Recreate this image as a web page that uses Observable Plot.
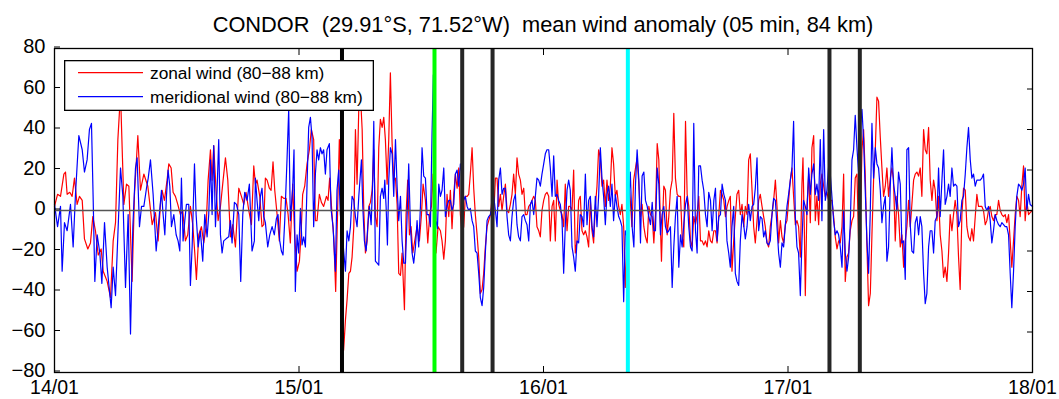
<!DOCTYPE html>
<html>
<head>
<meta charset="utf-8">
<script src="https://cdn.jsdelivr.net/npm/d3@7"></script>
<script src="https://cdn.jsdelivr.net/npm/@observablehq/plot@0.6"></script>
<style>
  html, body { margin: 0; padding: 0; background: #fff; }
  #wrap { position: relative; width: 1059px; height: 399px; font-family: "Liberation Sans", Arial, Helvetica, sans-serif; }
  #title { position: absolute; left: 0; width: 1086px; top: 14px; text-align: center; font-size: 21.8px; line-height: 22px; white-space: pre; color: #000; }
  #legend { position: absolute; left: 64px; top: 60px; }
</style>
</head>
<body>
<div id="wrap">
  <div id="chart"></div>
  <div id="title"></div>
  <svg id="legend" width="310" height="51"></svg>
</div>
<script>
const titleText = "CONDOR  (29.91°S, 71.52°W)  mean wind anomaly (05 min, 84 km)";
const seriesNames = ["zonal wind (80\u221288 km)", "meridional wind (80\u221288 km)"];
const dayHours = [0, 24, 48, 72, 96];
const dayLabels = ["14/01", "15/01", "16/01", "17/01", "18/01"];
const yTicks = [-80, -60, -40, -20, 0, 20, 40, 60, 80];

// event markers (hours since 14/01 00:00) and their kind
const eventHours = [28.22, 37.3, 40.02, 43.0, 56.28, 76.07, 79.05];
const eventKinds = ["black0", "green", "black", "black", "cyan", "black", "black"];

// [hours since 14/01 00:00, wind anomaly m/s]
const zonalWind = [[0,2],[0.3,8],[0.59,7],[0.92,18],[1.08,19],[1.24,8],[1.5,9],[1.73,7],[1.96,16],[2.22,3],[2.45,7],[2.72,5],[2.94,-14],[3.27,-19],[3.53,-16],[3.76,-3],[4.02,-10],[4.29,-22],[4.58,-19],[4.78,-30],[5.17,-35],[5.5,-43],[5.76,-15],[5.99,-6],[6.22,35],[6.48,58],[6.67,26],[6.81,3],[7.07,13],[7.3,12],[7.62,-35],[7.85,8],[8.18,37],[8.44,10],[8.77,18],[9.16,12],[9.59,-7],[9.91,-1],[10.17,-15],[10.4,3],[10.56,10],[10.79,5],[11.05,15],[11.22,23],[11.45,21],[11.64,9],[11.87,7],[12.1,3],[12.36,-2],[12.59,0],[12.85,-15],[13.08,-12],[13.34,2],[13.57,-7],[13.77,-21],[13.93,-34],[14.16,-12],[14.42,-8],[14.65,-16],[14.88,-8],[15.08,15],[15.31,30],[15.47,15],[15.63,32],[15.86,10],[16.06,-5],[16.29,2],[16.55,15],[16.78,26],[17.01,15],[17.27,-13],[17.5,-7],[17.76,-18],[18.09,11],[18.35,7],[18.58,3],[18.8,9],[19.07,0],[19.33,-7],[19.56,22],[19.72,13],[19.88,15],[20.15,7],[20.37,-8],[20.54,-7],[20.7,16],[20.87,15],[21.09,11],[21.26,10],[21.45,24],[21.62,10],[21.85,-2],[22.07,-15],[22.27,7],[22.5,6],[22.73,6],[22.93,-2],[23.15,-16],[23.38,13],[23.58,-13],[23.81,-30],[24.04,-25],[24.2,-12],[24.36,8],[24.56,12],[24.79,23],[25.02,30],[25.21,40],[25.44,35],[25.61,-5],[25.77,-5],[26.0,8],[26.2,4],[26.42,2],[26.69,7],[26.85,5],[27.01,16],[27.24,-2],[27.41,-13],[27.6,-40],[27.8,2],[27.96,35],[28.1,10],[28.25,-55],[28.38,-69],[28.56,-54],[28.72,-44],[28.89,-31],[29.05,-30],[29.21,-23],[29.38,-8],[29.54,40],[29.7,13],[29.87,51],[30.03,57],[30.2,40],[30.36,0],[30.52,-21],[30.69,-15],[30.85,2],[31.01,4],[31.18,10],[31.34,30],[31.5,-3],[31.67,-8],[31.83,31],[31.99,45],[32.16,41],[32.32,46],[32.48,35],[32.65,13],[32.81,35],[32.97,68],[33.14,33],[33.3,15],[33.47,16],[33.63,3],[33.79,-31],[33.96,-32],[34.12,-21],[34.35,-49],[34.51,-2],[34.67,15],[34.84,-12],[35.0,-8],[35.17,-21],[35.36,-15],[35.59,-8],[35.82,-15],[36.02,-2],[36.18,13],[36.41,5],[36.64,-16],[36.83,-2],[37.0,2],[37.16,18],[37.29,-7],[37.45,-21],[37.65,-8],[37.88,-10],[38.04,-15],[38.21,-24],[38.37,-15],[38.53,8],[38.7,-3],[38.86,10],[39.02,-9],[39.19,8],[39.35,18],[39.52,11],[39.68,21],[39.84,-2],[40.01,-12],[40.17,-8],[40.33,7],[40.5,7],[40.66,8],[40.82,18],[40.99,31],[41.15,11],[41.31,-2],[41.48,-12],[41.64,-23],[41.8,-41],[41.97,-39],[42.13,-31],[42.29,-18],[42.46,-8],[42.62,-5],[42.79,-2],[42.95,6],[43.11,-2],[43.28,16],[43.44,16],[43.6,2],[43.77,8],[43.93,0],[44.09,7],[44.26,13],[44.42,0],[44.58,-1],[44.75,3],[44.91,8],[45.07,18],[45.24,8],[45.4,26],[45.56,18],[45.73,15],[45.89,8],[46.06,11],[46.22,-2],[46.38,-2],[46.55,2],[46.71,3],[46.87,5],[47.04,7],[47.2,5],[47.36,-8],[47.53,-10],[47.69,-13],[47.85,0],[48.02,5],[48.18,8],[48.34,9],[48.51,7],[48.67,-15],[48.84,2],[49.0,5],[49.16,-15],[49.33,15],[49.49,3],[49.65,0],[49.82,-2],[49.98,-8],[50.14,13],[50.31,-10],[50.47,2],[50.63,2],[50.8,0],[50.96,20],[51.12,-21],[51.29,-15],[51.45,5],[51.61,7],[51.78,-10],[51.94,-12],[52.11,-10],[52.27,-13],[52.43,-18],[52.6,5],[52.76,-10],[52.92,-16],[53.09,2],[53.25,12],[53.41,30],[53.58,26],[53.74,12],[53.9,15],[54.07,2],[54.23,15],[54.39,5],[54.56,12],[54.72,31],[54.88,23],[55.05,7],[55.21,10],[55.38,2],[55.54,-2],[55.7,3],[55.87,-8],[56.03,-38],[56.19,-15],[56.36,13],[56.52,5],[56.68,-8],[56.85,15],[57.03,21],[57.19,26],[57.36,13],[57.52,-3],[57.68,3],[57.85,-8],[58.01,-13],[58.18,-16],[58.34,2],[58.5,-2],[58.67,-3],[58.83,-16],[58.99,-2],[59.16,33],[59.32,25],[59.48,-8],[59.58,-25],[59.71,-2],[59.81,12],[59.97,10],[60.14,-12],[60.3,-3],[60.46,10],[60.63,15],[60.79,48],[60.95,16],[61.12,8],[61.28,7],[61.45,7],[61.61,-13],[61.77,-18],[61.94,44],[62.1,8],[62.26,2],[62.43,-15],[62.59,-18],[62.75,-3],[62.92,-7],[63.08,-2],[63.24,7],[63.41,-15],[63.57,-15],[63.73,-17],[63.9,-15],[64.06,-18],[64.22,-10],[64.39,-15],[64.55,-16],[64.72,-10],[64.88,-10],[65.04,-16],[65.21,-2],[65.37,10],[65.53,8],[65.7,5],[65.86,-3],[66.02,2],[66.19,5],[66.34,7],[66.5,-30],[66.67,-15],[66.83,-3],[66.99,8],[67.16,10],[67.32,-2],[67.49,3],[67.65,-8],[67.81,2],[67.98,-2],[68.14,25],[68.3,28],[68.47,10],[68.63,-8],[68.79,-16],[68.96,-5],[69.12,5],[69.28,8],[69.45,2],[69.61,-3],[69.77,-8],[69.94,-16],[70.1,-18],[70.26,-8],[70.43,-2],[70.59,5],[70.76,15],[70.92,2],[71.08,-16],[71.25,-5],[71.41,-13],[71.57,-16],[71.74,-7],[71.9,-5],[72.06,5],[72.23,15],[72.39,21],[72.55,7],[72.72,-7],[72.88,-5],[73.04,-8],[73.21,-23],[73.37,13],[73.47,26],[73.6,-8],[73.7,-42],[73.86,2],[74.03,18],[74.19,-6],[74.35,31],[74.52,37],[74.68,-5],[74.84,7],[75.01,-7],[75.17,13],[75.33,18],[75.5,12],[75.66,7],[75.82,9],[75.99,5],[76.31,5],[76.48,-3],[76.64,-13],[76.81,-19],[76.97,-15],[77.13,-16],[77.3,-8],[77.46,18],[77.62,-35],[77.79,-23],[77.95,-21],[78.11,-10],[78.28,-5],[78.44,-3],[78.6,16],[78.77,18],[78.93,-15],[79.09,-8],[79.26,30],[79.42,40],[79.58,18],[79.75,-18],[79.91,-47],[80.08,-41],[80.24,-12],[80.4,15],[80.57,30],[80.73,56],[80.89,54],[81.06,36],[81.22,21],[81.38,7],[81.55,12],[81.71,21],[81.87,7],[82.04,16],[82.2,21],[82.36,15],[82.53,-15],[82.69,7],[82.85,-2],[83.02,-18],[83.18,-12],[83.35,-28],[83.51,-15],[83.67,-8],[83.84,5],[84.0,-8],[84.16,3],[84.33,15],[84.49,18],[84.65,19],[84.82,17],[84.98,21],[85.14,7],[85.31,40],[85.47,30],[85.63,28],[85.8,41],[85.96,15],[86.13,5],[86.29,15],[86.45,10],[86.62,-5],[86.78,7],[86.94,-12],[87.11,-20],[87.27,-33],[87.43,-28],[87.6,-35],[87.76,-21],[87.92,-2],[88.09,-10],[88.25,-2],[88.41,5],[88.58,-2],[88.74,-23],[88.9,-39],[89.07,-2],[89.23,11],[89.4,10],[89.56,-8],[89.72,-13],[89.89,-15],[90.05,-9],[90.21,-15],[90.38,-3],[90.54,8],[90.7,2],[90.87,2],[91.03,2],[91.19,0],[91.36,-7],[91.52,-5],[91.68,0],[91.85,2],[92.01,-3],[92.17,-5],[92.34,-2],[92.5,-2],[92.67,5],[92.83,0],[92.99,-2],[93.16,-3],[93.32,-2],[93.48,-6],[93.65,-2],[93.81,-15],[93.97,-28],[94.14,-15],[94.3,-2],[94.46,7],[94.63,5],[94.79,-3],[94.95,12],[95.12,22],[95.28,-5],[95.44,5],[95.61,-2],[95.77,-1],[96,0]];

const meridionalWind = [[0,3],[0.3,-8],[0.59,2],[0.75,-30],[0.98,-6],[1.24,-10],[1.57,3],[1.83,-18],[2.06,8],[2.39,37],[2.72,30],[2.94,19],[3.2,25],[3.43,40],[3.63,43],[3.79,7],[3.96,-35],[4.19,-12],[4.45,-21],[4.65,-36],[4.91,-6],[5.17,-28],[5.56,-48],[5.76,-28],[5.99,-42],[6.22,-12],[6.48,21],[6.71,7],[6.97,-38],[7.23,-2],[7.46,-61],[7.69,-8],[7.95,21],[8.11,26],[8.34,-8],[8.54,2],[8.77,2],[9.03,11],[9.2,16],[9.42,25],[9.68,8],[9.98,-20],[10.24,-5],[10.5,10],[10.63,0],[10.83,-12],[10.99,7],[11.15,20],[11.32,12],[11.48,-8],[11.71,-2],[11.94,-12],[12.13,-15],[12.3,-20],[12.46,16],[12.62,-15],[12.79,-5],[12.95,3],[13.18,3],[13.34,-37],[13.51,-18],[13.74,23],[13.9,-2],[14.1,-18],[14.32,-10],[14.55,-25],[14.75,-2],[14.98,-13],[15.14,-2],[15.31,25],[15.47,-2],[15.63,32],[15.8,-8],[15.96,10],[16.12,35],[16.29,-12],[16.45,-21],[16.61,-15],[16.84,-14],[17.1,-13],[17.27,-5],[17.43,-16],[17.66,4],[17.86,3],[18.09,-2],[18.28,-35],[18.48,-2],[18.67,9],[18.9,5],[19.13,13],[19.39,-20],[19.62,-15],[19.72,16],[19.88,5],[20.05,-5],[20.21,7],[20.37,11],[20.54,-3],[20.7,-6],[20.93,-18],[21.13,-12],[21.36,-8],[21.58,-12],[21.78,-4],[21.94,-2],[22.11,-15],[22.27,-20],[22.43,-22],[22.6,-5],[22.83,26],[22.99,50],[23.15,-5],[23.38,11],[23.51,30],[23.64,-40],[23.81,-12],[23.97,-21],[24.14,1],[24.3,-17],[24.46,-13],[24.63,-18],[24.79,13],[24.95,41],[25.12,46],[25.28,36],[25.44,-8],[25.61,18],[25.77,30],[25.93,25],[26.1,31],[26.26,28],[26.42,30],[26.59,18],[26.75,30],[26.98,33],[27.14,1],[27.34,-8],[27.57,-30],[27.73,10],[27.9,20],[28.06,-2],[28.3,-15],[28.56,-30],[28.72,-10],[28.89,-15],[29.05,-8],[29.21,7],[29.38,5],[29.54,-3],[29.7,-8],[29.87,7],[30.13,25],[30.26,2],[30.42,-15],[30.59,-20],[30.75,-8],[30.91,2],[31.08,-7],[31.24,15],[31.34,44],[31.5,-25],[31.67,-26],[31.83,-27],[31.99,7],[32.16,11],[32.32,6],[32.42,15],[32.55,2],[32.68,-17],[32.81,15],[32.97,31],[33.14,28],[33.3,7],[33.47,35],[33.63,12],[33.79,-5],[33.96,7],[34.12,-15],[34.28,-26],[34.45,-26],[34.61,-3],[34.77,23],[34.94,-8],[35.1,-21],[35.26,-26],[35.43,-18],[35.59,-5],[35.75,-18],[35.92,2],[36.08,31],[36.24,17],[36.41,16],[36.57,-2],[36.74,-2],[36.9,-8],[37.06,38],[37.19,67],[37.32,35],[37.45,-5],[37.59,-9],[37.72,13],[37.88,7],[38.04,10],[38.21,21],[38.37,-3],[38.53,2],[38.7,5],[38.86,5],[39.02,0],[39.19,3],[39.35,18],[39.52,20],[39.68,12],[39.84,23],[40.01,18],[40.17,5],[40.33,7],[40.5,2],[40.66,0],[40.82,1],[40.99,-5],[41.15,-8],[41.31,-20],[41.48,-21],[41.64,-31],[41.8,-43],[41.97,-47],[42.13,-38],[42.29,-21],[42.46,-5],[42.62,-3],[42.79,-2],[42.95,3],[43.11,7],[43.28,0],[43.44,-8],[43.6,15],[43.77,21],[43.93,8],[44.09,11],[44.26,11],[44.42,-3],[44.58,-12],[44.75,-15],[44.91,-3],[45.07,5],[45.24,8],[45.4,-7],[45.56,-13],[45.73,-15],[45.89,-3],[46.06,-2],[46.22,-5],[46.38,-7],[46.55,-15],[46.71,3],[46.87,5],[47.04,-2],[47.2,7],[47.36,16],[47.53,15],[47.69,12],[47.85,18],[48.02,23],[48.18,28],[48.34,30],[48.51,30],[48.67,21],[48.84,7],[49.0,27],[49.16,7],[49.33,8],[49.49,5],[49.65,3],[49.82,-5],[49.98,-31],[50.14,-7],[50.31,10],[50.47,15],[50.63,10],[50.8,-18],[50.96,-23],[51.12,-30],[51.29,-15],[51.45,-16],[51.61,-2],[51.78,-3],[51.94,-8],[52.11,18],[52.27,-7],[52.43,5],[52.6,7],[52.76,-8],[52.92,-13],[53.09,7],[53.25,-8],[53.41,7],[53.58,31],[53.74,16],[53.9,7],[54.07,-7],[54.23,8],[54.39,12],[54.56,2],[54.72,13],[54.88,-5],[55.05,8],[55.21,2],[55.38,-3],[55.54,-5],[55.7,-8],[55.87,-45],[56.03,-10],[56.19,-13],[56.52,19],[56.7,-8],[56.87,-18],[57.03,13],[57.19,30],[57.36,15],[57.52,-16],[57.68,17],[57.85,19],[58.01,5],[58.18,2],[58.34,-3],[58.5,-7],[58.67,4],[58.83,-10],[58.99,-10],[59.16,21],[59.32,13],[59.48,-12],[59.64,-2],[59.81,2],[59.97,-8],[60.14,-11],[60.3,-10],[60.46,-8],[60.63,-38],[60.79,-18],[60.95,-3],[61.12,7],[61.28,-28],[61.45,-12],[61.61,-18],[61.77,-7],[61.94,3],[62.1,7],[62.26,-8],[62.43,-18],[62.59,-20],[62.75,43],[62.92,-10],[63.08,-21],[63.24,22],[63.41,22],[63.57,15],[63.73,10],[63.9,-2],[64.06,-8],[64.22,9],[64.39,5],[64.55,-10],[64.72,5],[64.88,11],[65.04,-15],[65.21,-3],[65.37,-2],[65.53,13],[65.7,8],[65.86,5],[66.01,-15],[66.18,-21],[66.34,-28],[66.5,-8],[66.67,2],[66.83,-31],[66.99,-35],[67.16,-37],[67.32,-15],[67.49,-2],[67.65,-7],[67.81,-14],[67.98,-8],[68.14,3],[68.3,-5],[68.47,2],[68.63,3],[68.79,11],[68.96,26],[69.12,-10],[69.28,-3],[69.45,-4],[69.61,-13],[69.77,-10],[69.94,-16],[70.1,-17],[70.26,-15],[70.43,-2],[70.59,6],[70.76,5],[70.92,-8],[71.08,-21],[71.25,-28],[71.41,-16],[71.57,-18],[71.74,-7],[71.9,2],[72.06,8],[72.23,15],[72.39,21],[72.55,44],[72.72,-3],[72.88,-18],[73.04,-21],[73.21,-42],[73.37,-15],[73.53,5],[73.7,2],[73.86,-2],[74.03,21],[74.19,8],[74.35,18],[74.52,23],[74.68,8],[74.84,13],[75.01,5],[75.17,35],[75.33,-5],[75.5,40],[75.66,5],[75.82,10],[75.99,22],[76.15,18],[76.31,7],[76.48,-5],[76.64,-12],[76.81,-10],[76.97,-12],[77.13,-18],[77.3,-28],[77.46,0],[77.62,-21],[77.79,-30],[77.95,-23],[78.11,-7],[78.28,25],[78.44,30],[78.6,47],[78.77,31],[78.93,18],[79.09,41],[79.26,50],[79.42,35],[79.58,10],[79.75,-15],[79.91,-31],[80.08,0],[80.24,43],[80.4,16],[80.57,31],[80.73,23],[80.89,21],[81.06,10],[81.22,-6],[81.38,2],[81.55,7],[81.71,-25],[81.87,-18],[82.04,12],[82.2,31],[82.36,13],[82.53,7],[82.69,0],[82.85,19],[83.02,13],[83.18,-16],[83.35,-15],[83.51,-34],[83.67,30],[83.84,31],[84.0,-7],[84.16,-20],[84.33,-21],[84.49,-6],[84.65,-3],[84.82,-12],[84.98,-3],[85.14,-8],[85.31,-31],[85.47,-46],[85.63,-41],[85.8,-18],[85.96,-10],[86.13,-10],[86.29,-21],[86.45,-5],[86.62,-3],[86.78,21],[86.94,-3],[87.11,15],[87.27,30],[87.43,3],[87.6,7],[87.76,13],[87.92,7],[88.09,21],[88.25,12],[88.41,13],[88.58,12],[88.74,-8],[88.9,-5],[89.07,5],[89.23,7],[89.4,18],[89.56,31],[89.72,41],[89.89,25],[90.05,16],[90.21,18],[90.38,12],[90.54,15],[90.7,15],[90.87,15],[91.03,16],[91.19,18],[91.36,2],[91.52,0],[91.68,2],[91.85,-5],[92.01,-16],[92.17,-10],[92.34,-2],[92.5,-5],[92.67,-7],[92.83,-8],[92.99,-6],[93.16,-7],[93.32,-8],[93.48,-8],[93.65,-12],[93.81,-31],[93.97,-48],[94.14,-30],[94.3,-8],[94.46,7],[94.63,13],[94.79,12],[94.95,10],[95.12,13],[95.28,21],[95.44,0],[95.61,8],[95.77,3],[96,2]];

const kindColor = {black0: "#050505", black: "#262626", green: "#00ff00", cyan: "#00ffff"};
const seriesColors = ["#ff0000", "#0000ff"];

const zonalRows = zonalWind.map(([t, v]) => ({t, v}));
const meridRows = meridionalWind.map(([t, v]) => ({t, v}));
const eventRows = eventHours.map((t, i) => ({t, kind: eventKinds[i]}));

const chart = Plot.plot({
  width: 1059,
  height: 399,
  marginLeft: 54,
  marginRight: 27,
  marginTop: 48,
  marginBottom: 27,
  style: {fontFamily: "'Liberation Sans', Arial, Helvetica, sans-serif", fontSize: "20px", background: "white", overflow: "visible", color: "black"},
  x: {domain: [0, 96], label: null},
  y: {domain: [-80, 80], label: null},
  marks: [
    Plot.line(zonalRows, {x: "t", y: "v", stroke: seriesColors[0], strokeWidth: 1.2}),
    Plot.line(meridRows, {x: "t", y: "v", stroke: seriesColors[1], strokeWidth: 1.2}),
    Plot.ruleY([0], {stroke: "#555", strokeWidth: 1.5}),
    Plot.ruleX(eventRows, {x: "t", stroke: d => kindColor[d.kind], strokeWidth: 4}),
    Plot.frame({stroke: "black", strokeWidth: 1.3}),
    Plot.axisX(dayHours, {anchor: "bottom", tickSize: -6, tickPadding: 14, label: null, fontSize: 19.5, tickFormat: d => dayLabels[dayHours.indexOf(d)]}),
    Plot.axisX(dayHours, {anchor: "top", tickSize: -6, label: null, tickFormat: () => ""}),
    Plot.axisY(yTicks, {anchor: "left", tickSize: -6, tickPadding: 15, dy: -1.5, label: null}),
    Plot.axisY(yTicks, {anchor: "right", tickSize: -6, label: null, tickFormat: () => ""})
  ]
});
document.getElementById("chart").appendChild(chart);
document.getElementById("title").textContent = titleText;

// legend
const lg = d3.select("#legend");
lg.append("rect").attr("x", 0.65).attr("y", 0.65).attr("width", 308.7).attr("height", 49.7)
  .attr("fill", "white").attr("stroke", "black").attr("stroke-width", 1.3);
seriesNames.forEach((name, i) => {
  const cy = 12.7 + i * 24;
  lg.append("line").attr("x1", 14).attr("x2", 79).attr("y1", cy).attr("y2", cy)
    .attr("stroke", seriesColors[i]).attr("stroke-width", 1.2);
  lg.append("text").attr("x", 86).attr("y", cy + 6.3).text(name)
    .attr("font-family", "'Liberation Sans', Arial, Helvetica, sans-serif").attr("font-size", 17.3).attr("fill", "black");
});
</script>
</body>
</html>
